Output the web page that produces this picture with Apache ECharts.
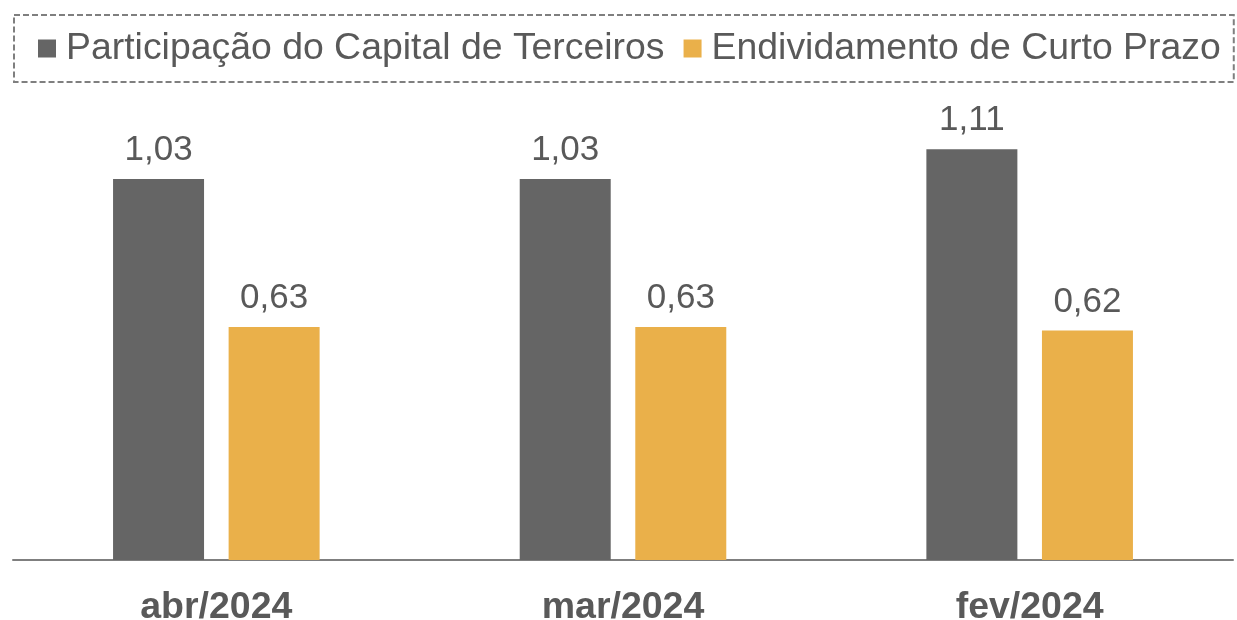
<!DOCTYPE html>
<html>
<head>
<meta charset="utf-8">
<script src="https://cdn.jsdelivr.net/npm/echarts@6/dist/echarts.min.js"></script>
<style>html,body{margin:0;padding:0;background:#fff}#c{width:1237px;height:620px}</style>
</head>
<body>
<div id="c"></div>
<script>
const categories = ['abr/2024', 'mar/2024', 'fev/2024'];
const seriesNames = ['Participação do Capital de Terceiros', 'Endividamento de Curto Prazo'];
const capitalTerceiros = [1.03, 1.03, 1.11];
const curtoPrazo = [0.63, 0.63, 0.62];

const FONT = 'Arial, "Liberation Sans", sans-serif';
const chart = echarts.init(document.getElementById('c'));
const fmt = p => p.value.toFixed(2).replace('.', ',');
chart.setOption({
  animation: false,
  legend: {
    left: 14, top: 15, width: 1223,
    itemWidth: 18, itemHeight: 18, itemGap: 19,
    icon: 'rect',
    borderColor: '#7f7f7f', borderWidth: 2, borderType: [6, 3],
    padding: [15, 13, 15, 24],
    textStyle: { fontFamily: FONT, fontSize: 37.4, color: '#595959', padding: [0, 0, 0, 5] },
    data: seriesNames
  },
  grid: { left: 13, right: 4, top: 97.5, bottom: 60, outerBoundsMode: 'none', containLabel: false },
  xAxis: {
    type: 'category', data: categories,
    axisLine: { lineStyle: { color: '#7f7f7f', width: 2 } },
    axisTick: { show: false },
    axisLabel: { fontFamily: FONT, fontSize: 37.5, fontWeight: 'bold', color: '#595959', margin: 29 }
  },
  yAxis: { type: 'value', min: 0, max: 1.25, show: false, splitLine: { show: false } },
  series: [
    { name: seriesNames[0], type: 'bar', data: capitalTerceiros, barWidth: 91, barGap: '27%',
      itemStyle: { color: '#656565' },
      label: { show: true, position: 'top', distance: 11, formatter: fmt, fontFamily: FONT, fontSize: 35, color: '#595959' } },
    { name: seriesNames[1], type: 'bar', data: curtoPrazo, barWidth: 91,
      itemStyle: { color: '#EAB04A' },
      label: { show: true, position: 'top', distance: 11, formatter: fmt, fontFamily: FONT, fontSize: 35, color: '#595959' } }
  ]
});
</script>
</body>
</html>
